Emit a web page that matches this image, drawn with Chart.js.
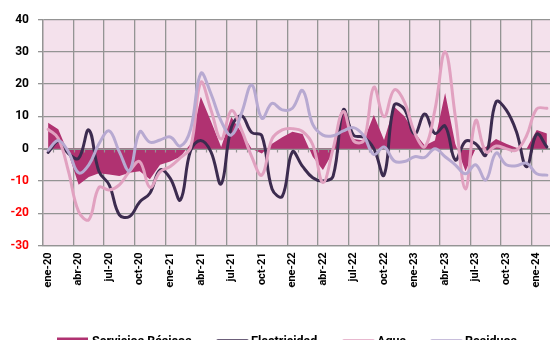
<!DOCTYPE html>
<html lang="es">
<head>
<meta charset="utf-8">
<script src="https://cdn.jsdelivr.net/npm/chart.js@4.4.1/dist/chart.umd.min.js"></script>
<style>
  html, body { margin: 0; padding: 0; background: #fff; overflow: hidden; }
  #wrap { width: 552px; height: 340px; }
</style>
</head>
<body>
<div id="wrap"><canvas id="grafico" width="552" height="340"></canvas></div>
<script>
// variación anual (%) por mes, ene-20 a feb-24
const periodos = [
  'ene-20','feb-20','mar-20','abr-20','may-20','jun-20','jul-20','ago-20','sep-20','oct-20','nov-20','dic-20',
  'ene-21','feb-21','mar-21','abr-21','may-21','jun-21','jul-21','ago-21','sep-21','oct-21','nov-21','dic-21',
  'ene-22','feb-22','mar-22','abr-22','may-22','jun-22','jul-22','ago-22','sep-22','oct-22','nov-22','dic-22',
  'ene-23','feb-23','mar-23','abr-23','may-23','jun-23','jul-23','ago-23','sep-23','oct-23','nov-23','dic-23',
  'ene-24','feb-24'
];

const serviciosBasicos = [
  8, 6, -1.5, -11.2, -8.8, -7.6, -8, -8.5, -7.5, -7,
  -9.5, -5, -4, -2.5, 1.5, 16.1, 8.5, 0.5, 9.8, 5,
  0, -1.5, 1.5, 3.5, 5.2, 4.5, -2.5, -6.6, -1, 11.5,
  3, 2.5, 10.4, 2.7, 13, 10, 5, 1, 2.5, 17.2,
  1.5, -7, 0, 0.5, 3, 1.5, 0.3, 0, 5.8, 4.7
];
const electricidad = [
  -1.2, 2.2, -1.5, -3, 5.8, -7.1, -11.2, -20.5, -21, -16.5,
  -13.8, -6.6, -9.2, -15.9, -0.6, 2.5, -1, -10.9, 6.5, 10.2,
  5, 4, -12.5, -14.8, -1, -5.5, -9, -10, -8.5, 12,
  4.2, 3.5, 0, -8.2, 13.5, 12.2, 4.5, 10.7, 4.7, 7,
  -3.5, 2.3, 1.5, -2, 14.5, 12, 5.3, -5.6, 4.5, 0.5
];
const agua = [
  6, 3.2, -7, -19.5, -22, -12, -12.8, -11.2, -7, -4,
  -12, -7.2, -5.5, -2.8, 0.3, 20.5, 12, 3, 11.8, 5.8,
  -2.5, -8.2, 3, 5.8, 6.2, 5.3, 1.2, -10.5, 0, 11.5,
  2.5, 2.5, 19, 9.9, 18.2, 14.5, 5, 0.6, 12, 30,
  10, -12.5, 8.7, -1, 0.8, 0, -0.5, 4, 12.3, 12.5
];
const residuos = [
  -0.5, 2.5, -1, -7.5, -5, 1.5, 5.5, -1, -6.8, 5.2,
  2, 2.7, 3.6, 0.8, 6, 23.3, 17, 8.5, 4.2, 11,
  19.7, 9.4, 14, 12, 12.5, 18, 7.5, 4.2, 4, 5.5,
  6.5, 4, -1.8, 0.5, -3.8, -4, -2.5, -2.7, 0, -2.5,
  -5, -7.8, -5, -9.7, -1.4, -5, -5.3, -4.5, -7.8, -8.2
];

const gris = '#949494';
const colores = {
  sb: '#B03271',
  elec: '#3C2B4F',
  agua: '#E1A1C0',
  res: '#B7A9D1'
};

// fondo rosado del área de trazado
const fondoPlot = {
  id: 'fondoPlot',
  beforeDraw(chart) {
    const { ctx, chartArea: a } = chart;
    ctx.save();
    ctx.fillStyle = '#F4E1EC';
    ctx.fillRect(a.left, a.top, a.right - a.left, a.bottom - a.top);
    ctx.restore();
  }
};

// eje en cero con marcas pequeñas por mes (encima del área, debajo de las líneas)
const ejeCero = {
  id: 'ejeCero',
  afterDatasetDraw(chart, args) {
    if (args.index !== 0) return;
    const { ctx, chartArea: a, scales } = chart;
    const y0 = Math.round(scales.y.getPixelForValue(0)) + 0.5;
    const half = (scales.x.getPixelForValue(1) - scales.x.getPixelForValue(0)) / 2;
    ctx.save();
    ctx.strokeStyle = gris;
    ctx.lineWidth = 1.2;
    ctx.beginPath();
    ctx.moveTo(a.left, y0);
    ctx.lineTo(a.right, y0);
    for (let i = 1; i < periodos.length; i++) {
      const x = Math.round(scales.x.getPixelForValue(i) - half) + 0.5;
      ctx.moveTo(x, y0);
      ctx.lineTo(x, y0 + 3);
    }
    ctx.stroke();
    ctx.restore();
  }
};

// leyenda inferior
const leyenda = {
  id: 'leyenda',
  afterDraw(chart) {
    const ctx = chart.ctx;
    const items = [
      { x: 57, texto: 'Servicios Básicos', color: colores.sb, caja: true },
      { x: 216, texto: 'Electricidad', color: colores.elec },
      { x: 342, texto: 'Agua', color: colores.agua },
      { x: 430, texto: 'Residuos', color: colores.res }
    ];
    const yLinea = 341.3;
    ctx.save();
    ctx.font = 'bold 12.5px Roboto';
    ctx.textBaseline = 'alphabetic';
    items.forEach(it => {
      if (it.caja) {
        ctx.fillStyle = it.color;
        ctx.fillRect(it.x, 337.5, 31, 10);
      } else {
        ctx.strokeStyle = it.color;
        ctx.lineWidth = 4;
        ctx.lineCap = 'round';
        ctx.beginPath();
        ctx.moveTo(it.x + 2, yLinea);
        ctx.lineTo(it.x + 31, yLinea);
        ctx.stroke();
      }
      ctx.fillStyle = '#000';
      ctx.fillText(it.texto, it.x + 35, 344.5);
    });
    ctx.restore();
  }
};

const serie = (label, data, color, order) => ({
  label, data, order,
  type: 'line',
  borderColor: color,
  borderWidth: 3,
  backgroundColor: color,
  fill: false,
  tension: 0.4,
  pointRadius: 0,
  borderCapStyle: 'round',
  borderJoinStyle: 'round'
});

new Chart(document.getElementById('grafico'), {
  type: 'line',
  data: {
    labels: periodos,
    datasets: [
      {
        label: 'Servicios Básicos',
        data: serviciosBasicos,
        order: 4,
        borderWidth: 0,
        borderColor: colores.sb,
        backgroundColor: colores.sb,
        fill: 'origin',
        tension: 0,
        pointRadius: 0
      },
      serie('Electricidad', electricidad, colores.elec, 3),
      serie('Agua', agua, colores.agua, 2),
      serie('Residuos', residuos, colores.res, 1)
    ]
  },
  options: {
    responsive: false,
    animation: false,
    devicePixelRatio: 1,
    layout: { padding: { top: 19.5, right: 0, bottom: 0, left: 0 } },
    plugins: {
      legend: { display: false },
      tooltip: { enabled: false }
    },
    scales: {
      x: {
        type: 'category',
        offset: true,
        grid: {
          offset: true,
          drawTicks: false,
          lineWidth: 1.3,
          color: c => (c.index !== undefined && c.index % 3 === 0) ? gris : 'rgba(0,0,0,0)'
        },
        border: { color: gris, width: 1.3 },
        ticks: {
          autoSkip: false,
          minRotation: 90,
          maxRotation: 90,
          padding: 7,
          color: '#000',
          font: { family: 'Roboto', weight: 'bold', size: 11 },
          callback: (v, i) => i % 3 === 0 ? periodos[i] : ''
        },
        afterFit: s => { s.height = 94.5; s.paddingLeft = 0; s.paddingRight = 0; }
      },
      y: {
        min: -30,
        max: 40,
        grid: { color: gris, lineWidth: 1.3, tickLength: 5 },
        border: { color: gris, width: 1.3 },
        ticks: {
          stepSize: 10,
          padding: 9,
          color: c => c.tick.value < 0 ? '#FF0000' : '#000',
          font: { family: 'Roboto', weight: 'bold', size: 12 }
        },
        afterFit: s => { s.width = 43; }
      }
    }
  },
  plugins: [fondoPlot, ejeCero, leyenda]
});
</script>
</body>
</html>
